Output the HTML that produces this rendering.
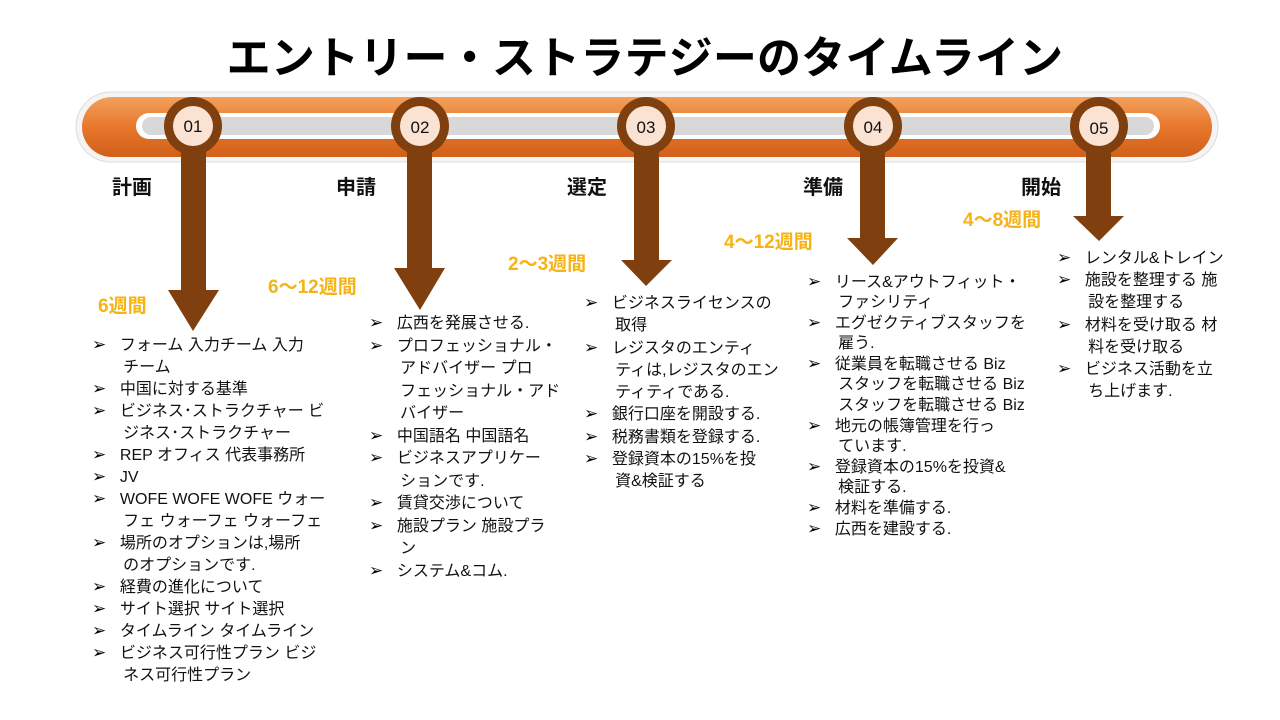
<!DOCTYPE html>
<html><head><meta charset="utf-8"><style>
body{margin:0;width:1280px;height:720px;background:#fff;position:relative;overflow:hidden;font-family:"Liberation Sans","Noto Sans CJK JP",sans-serif}
.a{position:absolute;white-space:nowrap}
.t{position:absolute;left:0;width:1290px;text-align:center;top:22px;font-size:44px;font-weight:bold;color:#000;letter-spacing:0.2px}
.lab{font-size:20px;font-weight:bold;color:#111}
.dur{font-size:19px;font-weight:bold;color:#f5b315}
.l{font-size:16px;color:#111;line-height:20px}
.b{font-size:17px;color:#000;line-height:20px;display:inline-block;width:19px}
</style></head><body>
<div class="t">エントリー・ストラテジーのタイムライン</div>
<svg class="a" style="left:0;top:0" width="1280" height="720">
<defs><linearGradient id="g" x1="0" y1="0" x2="0" y2="1"><stop offset="0" stop-color="#f2a15c"/><stop offset="0.5" stop-color="#e8772c"/><stop offset="1" stop-color="#d0601a"/></linearGradient></defs>
<rect x="76" y="92" width="1142" height="70" rx="35" fill="#f4f4f4" stroke="#ddd"/>
<rect x="82" y="97" width="1130" height="60" rx="30" fill="url(#g)"/>
<rect x="136" y="113" width="1024" height="26" rx="13" fill="#fff"/>
<rect x="142" y="117" width="1012" height="18" rx="9" fill="#d8d8d8"/>
<g fill="#7f3f0e">
<rect x="181" y="130" width="25" height="162"/><polygon points="168,290 219,290 193,331"/>
<rect x="407" y="130" width="25" height="140"/><polygon points="394,268 445,268 420,310"/>
<rect x="634" y="130" width="25" height="132"/><polygon points="621,260 672,260 646,286"/>
<rect x="860" y="130" width="25" height="110"/><polygon points="847,238 898,238 873,265"/>
<rect x="1086" y="130" width="25" height="88"/><polygon points="1073,216 1124,216 1099,241"/>
</g>
<g fill="#7f3f0e"><circle cx="193" cy="126" r="29"/><circle cx="420" cy="126" r="29"/><circle cx="646" cy="126" r="29"/><circle cx="873" cy="126" r="29"/><circle cx="1099" cy="126" r="29"/></g>
<g fill="#fbe3d3"><circle cx="193" cy="126" r="20"/><circle cx="420" cy="126" r="20"/><circle cx="646" cy="126" r="20"/><circle cx="873" cy="126" r="20"/><circle cx="1099" cy="126" r="20"/></g>
<g font-family="Liberation Sans" font-size="17" fill="#111" text-anchor="middle"><text x="193" y="132">01</text><text x="420" y="133">02</text><text x="646" y="133">03</text><text x="873" y="133">04</text><text x="1099" y="134">05</text></g>
</svg>
<div class="a lab" style="left:112px;top:171px">計画</div>
<div class="a lab" style="left:336px;top:171px">申請</div>
<div class="a lab" style="left:567px;top:171px">選定</div>
<div class="a lab" style="left:803px;top:171px">準備</div>
<div class="a lab" style="left:1021px;top:171px">開始</div>
<div class="a dur" style="left:98px;top:291px">6週間</div>
<div class="a dur" style="left:268px;top:272px">6～12週間</div>
<div class="a dur" style="left:508px;top:249px">2～3週間</div>
<div class="a dur" style="left:724px;top:227px">4～12週間</div>
<div class="a dur" style="left:963px;top:205px">4～8週間</div>

<div class="a" style="left:92px;top:335px">
<div class="l" style="line-height:22px"><span class="b">➢</span>&nbsp;&nbsp;フォーム 入力チーム 入力<br>&nbsp;&nbsp;&nbsp;&nbsp;&nbsp;&nbsp;&nbsp;チーム<br><span class="b">➢</span>&nbsp;&nbsp;中国に対する基準<br><span class="b">➢</span>&nbsp;&nbsp;ビジネス･ストラクチャー ビ<br>&nbsp;&nbsp;&nbsp;&nbsp;&nbsp;&nbsp;&nbsp;ジネス･ストラクチャー<br><span class="b">➢</span>&nbsp;&nbsp;REP オフィス 代表事務所<br><span class="b">➢</span>&nbsp;&nbsp;JV<br><span class="b">➢</span>&nbsp;&nbsp;WOFE WOFE WOFE ウォー<br>&nbsp;&nbsp;&nbsp;&nbsp;&nbsp;&nbsp;&nbsp;フェ ウォーフェ ウォーフェ<br><span class="b">➢</span>&nbsp;&nbsp;場所のオプションは,場所<br>&nbsp;&nbsp;&nbsp;&nbsp;&nbsp;&nbsp;&nbsp;のオプションです.<br><span class="b">➢</span>&nbsp;&nbsp;経費の進化について<br><span class="b">➢</span>&nbsp;&nbsp;サイト選択 サイト選択<br><span class="b">➢</span>&nbsp;&nbsp;タイムライン タイムライン<br><span class="b">➢</span>&nbsp;&nbsp;ビジネス可行性プラン ビジ<br>&nbsp;&nbsp;&nbsp;&nbsp;&nbsp;&nbsp;&nbsp;ネス可行性プラン</div></div>

<div class="a" style="left:369px;top:313px">
<div class="l" style="line-height:22.5px"><span class="b">➢</span>&nbsp;&nbsp;広西を発展させる.<br><span class="b">➢</span>&nbsp;&nbsp;プロフェッショナル・<br>&nbsp;&nbsp;&nbsp;&nbsp;&nbsp;&nbsp;&nbsp;アドバイザー プロ<br>&nbsp;&nbsp;&nbsp;&nbsp;&nbsp;&nbsp;&nbsp;フェッショナル・アド<br>&nbsp;&nbsp;&nbsp;&nbsp;&nbsp;&nbsp;&nbsp;バイザー<br><span class="b">➢</span>&nbsp;&nbsp;中国語名 中国語名<br><span class="b">➢</span>&nbsp;&nbsp;ビジネスアプリケー<br>&nbsp;&nbsp;&nbsp;&nbsp;&nbsp;&nbsp;&nbsp;ションです.<br><span class="b">➢</span>&nbsp;&nbsp;賃貸交渉について<br><span class="b">➢</span>&nbsp;&nbsp;施設プラン 施設プラ<br>&nbsp;&nbsp;&nbsp;&nbsp;&nbsp;&nbsp;&nbsp;ン<br><span class="b">➢</span>&nbsp;&nbsp;システム&amp;コム.</div></div>

<div class="a" style="left:584px;top:293px">
<div class="l" style="line-height:22.3px"><span class="b">➢</span>&nbsp;&nbsp;ビジネスライセンスの<br>&nbsp;&nbsp;&nbsp;&nbsp;&nbsp;&nbsp;&nbsp;取得<br><span class="b">➢</span>&nbsp;&nbsp;レジスタのエンティ<br>&nbsp;&nbsp;&nbsp;&nbsp;&nbsp;&nbsp;&nbsp;ティは,レジスタのエン<br>&nbsp;&nbsp;&nbsp;&nbsp;&nbsp;&nbsp;&nbsp;ティティである.<br><span class="b">➢</span>&nbsp;&nbsp;銀行口座を開設する.<br><span class="b">➢</span>&nbsp;&nbsp;税務書類を登録する.<br><span class="b">➢</span>&nbsp;&nbsp;登録資本の15%を投<br>&nbsp;&nbsp;&nbsp;&nbsp;&nbsp;&nbsp;&nbsp;資&amp;検証する</div></div>

<div class="a" style="left:807px;top:272px">
<div class="l" style="line-height:20.1px"><span class="b">➢</span>&nbsp;&nbsp;リース&amp;アウトフィット・<br>&nbsp;&nbsp;&nbsp;&nbsp;&nbsp;&nbsp;&nbsp;ファシリティ<br><span class="b">➢</span>&nbsp;&nbsp;エグゼクティブスタッフを<br>&nbsp;&nbsp;&nbsp;&nbsp;&nbsp;&nbsp;&nbsp;雇う.<br><span class="b">➢</span>&nbsp;&nbsp;従業員を転職させる Biz<br>&nbsp;&nbsp;&nbsp;&nbsp;&nbsp;&nbsp;&nbsp;スタッフを転職させる Biz<br>&nbsp;&nbsp;&nbsp;&nbsp;&nbsp;&nbsp;&nbsp;スタッフを転職させる Biz<br><span class="b">➢</span>&nbsp;&nbsp;地元の帳簿管理を行っ<br>&nbsp;&nbsp;&nbsp;&nbsp;&nbsp;&nbsp;&nbsp;ています.<br><span class="b">➢</span>&nbsp;&nbsp;登録資本の15%を投資&amp;<br>&nbsp;&nbsp;&nbsp;&nbsp;&nbsp;&nbsp;&nbsp;検証する.<br><span class="b">➢</span>&nbsp;&nbsp;材料を準備する.<br><span class="b">➢</span>&nbsp;&nbsp;広西を建設する.</div></div>

<div class="a" style="left:1057px;top:248px">
<div class="l" style="line-height:22.2px"><span class="b">➢</span>&nbsp;&nbsp;レンタル&amp;トレイン<br><span class="b">➢</span>&nbsp;&nbsp;施設を整理する 施<br>&nbsp;&nbsp;&nbsp;&nbsp;&nbsp;&nbsp;&nbsp;設を整理する<br><span class="b">➢</span>&nbsp;&nbsp;材料を受け取る 材<br>&nbsp;&nbsp;&nbsp;&nbsp;&nbsp;&nbsp;&nbsp;料を受け取る<br><span class="b">➢</span>&nbsp;&nbsp;ビジネス活動を立<br>&nbsp;&nbsp;&nbsp;&nbsp;&nbsp;&nbsp;&nbsp;ち上げます.</div></div>
</body></html>
